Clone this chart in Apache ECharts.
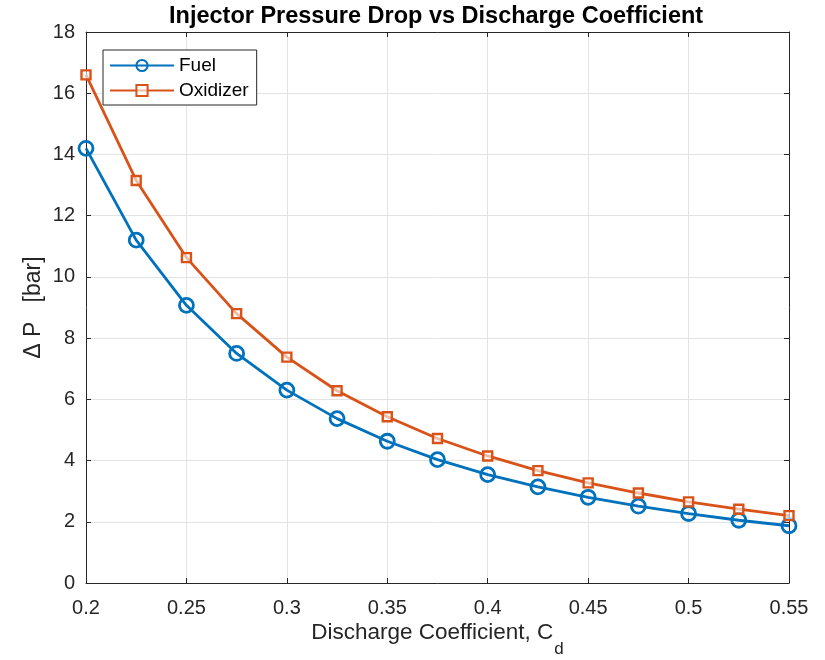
<!DOCTYPE html>
<html><head><meta charset="utf-8">
<script src="https://cdn.jsdelivr.net/npm/echarts@6/dist/echarts.min.js"></script>
<style>html,body{margin:0;padding:0;background:#fff}#c{width:825px;height:660px}</style>
</head><body><div id="c"></div>
<script>
const cd = [0.2,0.225,0.25,0.275,0.3,0.325,0.35,0.375,0.4,0.425,0.45,0.475,0.5,0.525,0.55];
const fuel = [14.2,11.2,9.07,7.5,6.3,5.37,4.63,4.03,3.54,3.14,2.8,2.51,2.27,2.05,1.87];
const oxidizer = [16.6,13.15,10.63,8.8,7.38,6.28,5.43,4.72,4.15,3.67,3.27,2.94,2.65,2.41,2.2];
const xTicks = [0.2,0.25,0.3,0.35,0.4,0.45,0.5,0.55];
const yTicks = [0,2,4,6,8,10,12,14,16,18];

const FONT = '"Liberation Sans", Arial, sans-serif';
const TXT = '#262626';
const AX = '#262626';
const GRIDC = '#e3e3e3';
const BLUE = '#0072BD', ORANGE = '#D95319';

const chart = echarts.init(document.getElementById('c'), null, {renderer:'canvas'});
const xCommon = {
  type:'value', min:0.2, max:0.55, interval:0.05,
  axisLine:{show:true, onZero:false, lineStyle:{color:AX, width:1}},
  axisTick:{show:true, inside:true, length:5, lineStyle:{color:AX}},
};
const yCommon = {
  type:'value', min:0, max:18, interval:2,
  axisLine:{show:true, onZero:false, lineStyle:{color:AX, width:1}},
  axisTick:{show:true, inside:true, length:5, lineStyle:{color:AX}},
};
chart.setOption({
  animation:false,
  backgroundColor:'#fff',
  title:{text:'Injector Pressure Drop vs Discharge Coefficient', left:169, top:5,
    padding:0,
    textStyle:{fontFamily:FONT, fontWeight:'bold', fontSize:23.5, color:'#000'}},
  grid:{left:86, right:36, top:32, bottom:77, containLabel:false, outerBoundsMode:'none'},
  legend:{
    left:103, top:50, orient:'vertical', itemWidth:64, itemHeight:14, itemGap:6,
    padding:[6,8,5,6], backgroundColor:'#fff', borderColor:'#262626', borderWidth:1,
    textStyle:{fontFamily:FONT, fontSize:19, color:'#000'},
    data:['Fuel','Oxidizer']
  },
  xAxis:[
    Object.assign({}, xCommon, {position:'bottom',
      name:'{n|Discharge Coefficient, C}{s|d}', nameLocation:'middle', nameGap:38,
      nameMoveOverlap:false,
      nameTextStyle:{fontFamily:FONT, color:TXT, rich:{
        n:{fontFamily:FONT, fontSize:22.5, color:TXT, verticalAlign:'top'},
        s:{fontFamily:FONT, fontSize:17, color:TXT, verticalAlign:'bottom', padding:[20,0,0,1]}}},
      axisLabel:{show:true, fontFamily:FONT, fontSize:20, color:TXT, margin:15,
        formatter:v=>xTicks.includes(+v.toFixed(3)) ? String(+v.toFixed(3)) : ''},
      splitLine:{show:true, lineStyle:{color:GRIDC, width:1}}}),
    Object.assign({}, xCommon, {position:'top', axisLabel:{show:false}, splitLine:{show:false}})
  ],
  yAxis:[
    Object.assign({}, yCommon, {position:'left',
      name:'Δ P   [bar]', nameLocation:'middle', nameGap:41, nameRotate:90,
      nameMoveOverlap:false,
      nameTextStyle:{fontFamily:FONT, fontSize:23, color:TXT},
      axisLabel:{show:true, fontFamily:FONT, fontSize:20, color:TXT, margin:11,
        formatter:v=>yTicks.includes(v) ? String(v) : ''},
      splitLine:{show:true, lineStyle:{color:GRIDC, width:1}}}),
    Object.assign({}, yCommon, {position:'right', axisLabel:{show:false}, splitLine:{show:false}})
  ],
  series:[
    {name:'Fuel', type:'line', data:cd.map((x,i)=>[x,fuel[i]]),
      symbol:'circle', symbolSize:14, showAllSymbol:true,
      lineStyle:{color:BLUE, width:2.8},
      itemStyle:{color:'rgba(255,255,255,0)', borderColor:BLUE, borderWidth:2.8},
      emphasis:{disabled:true}, z:3},
    {name:'Oxidizer', type:'line', data:cd.map((x,i)=>[x,oxidizer[i]]),
      symbol:'rect', symbolSize:9, showAllSymbol:true,
      lineStyle:{color:ORANGE, width:2.8},
      itemStyle:{color:'rgba(255,255,255,0.6)', borderColor:ORANGE, borderWidth:2.4},
      emphasis:{disabled:true}, z:4}
  ]
});
</script></body></html>
